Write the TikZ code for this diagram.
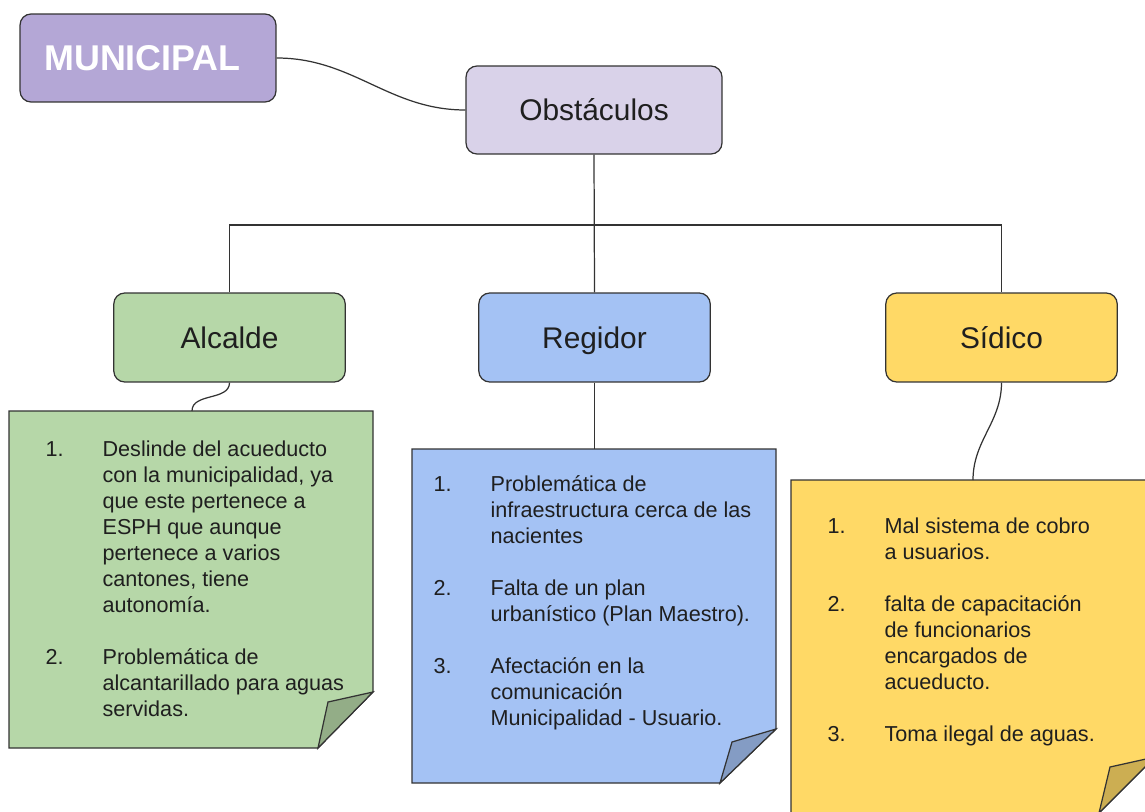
\documentclass[tikz,border=0pt]{standalone}
\usepackage{fontspec}
\setmainfont{Liberation Sans}

\definecolor{munfill}{HTML}{B4A7D6}
\definecolor{obsfill}{HTML}{D9D2E9}
\definecolor{alcfill}{HTML}{B6D7A8}
\definecolor{alcfold}{HTML}{93AD87}
\definecolor{regfill}{HTML}{A4C2F4}
\definecolor{regfold}{HTML}{849CC4}
\definecolor{sidfill}{HTML}{FFD966}
\definecolor{sidfold}{HTML}{CCAE52}
\definecolor{linegray}{HTML}{333333}
\definecolor{textgray}{HTML}{1F1F1F}

\begin{document}
\begin{tikzpicture}[x=0.02cm,y=-0.02cm,line width=0.7pt,
  head/.style={draw=linegray,rounded corners=0.22cm,minimum width=4.63cm,minimum height=1.78cm,
    text=textgray,font=\fontsize{17}{20}\selectfont,text height=12.2pt,text depth=0pt},
  notebox/.style={draw=linegray,line join=miter},
  items/.style={anchor=base west,inner sep=0pt,text=textgray,font=\fontsize{12.3}{14.85}\selectfont}]

\useasboundingbox (0,0) rectangle (1145,811);
\clip (0,0) rectangle (1145,811);

% boxes
\node[head,fill=munfill,minimum width=5.12cm,minimum height=1.76cm,text=white,text height=14.6pt,
  font=\fontsize{20.4}{24}\selectfont\bfseries] (municipal) at (148,58) {MUNICIPAL\kern0.22cm};
\node[head,fill=obsfill,minimum width=5.12cm,minimum height=1.76cm] (obst) at (594,110) {Obstáculos};

\node[head,fill=alcfill] (alc) at (229.5,337.5) {Alcalde};
\node[head,fill=regfill] (reg) at (594.5,337.5) {Regidor};
\node[head,fill=sidfill] (sid) at (1001.5,337.5) {Sídico};

% notes
\draw[notebox,fill=alcfill] (9,411) -- (373,411) -- (373,692) -- (318,748) -- (9,748) -- cycle;
\draw[notebox,fill=alcfold] (373,692) -- (328,702) -- (318,748) -- cycle;
\coordinate (alcnote) at (192,411);

\draw[notebox,fill=regfill] (412,449) -- (776,449) -- (776,729) -- (720,783) -- (412,783) -- cycle;
\draw[notebox,fill=regfold] (776,729) -- (732,742) -- (720,783) -- cycle;
\coordinate (regnote) at (594.5,449);

\draw[notebox,fill=sidfill] (791,480) -- (1155,480) -- (1155,757) -- (1099,813) -- (791,813) -- cycle;
\draw[notebox,fill=sidfold] (1155,757) -- (1110,767) -- (1099,813) -- cycle;
\coordinate (sidnote) at (973,480);

% connectors
\draw[linegray] (municipal.east) to[out=0,in=180] (obst.west);
\coordinate (fork) at (594,225);
\draw[linegray] (obst.south) -- (reg.north);
\draw[linegray] (alc.north) |- (fork) -| (sid.north);
\draw[linegray] (alc.south) to[out=-90,in=90] (alcnote);
\draw[linegray] (reg.south) -- (regnote);
\draw[linegray] (sid.south) to[out=-90,in=90] (sidnote);

% lists
\node[items] (alclist) at (45,456) {\begin{tabular}[t]{@{}p{1.14cm}@{}l@{}}
1. & Deslinde del acueducto\\
   & con la municipalidad, ya\\
   & que este pertenece a\\
   & ESPH que aunque\\
   & pertenece a varios\\
   & cantones, tiene\\
   & autonomía.\\
   & \\
2. & Problemática de\\
   & alcantarillado para aguas\\
   & servidas.
\end{tabular}};

\node[items] (reglist) at (433,491) {\begin{tabular}[t]{@{}p{1.14cm}@{}l@{}}
1. & Problemática de\\
   & infraestructura cerca de las\\
   & nacientes\\
   & \\
2. & Falta de un plan\\
   & urbanístico (Plan Maestro).\\
   & \\
3. & Afectación en la\\
   & comunicación\\
   & Municipalidad - Usuario.
\end{tabular}};

\node[items] (sidlist) at (827,533) {\begin{tabular}[t]{@{}p{1.14cm}@{}l@{}}
1. & Mal sistema de cobro\\
   & a usuarios.\\
   & \\
2. & falta de capacitación\\
   & de funcionarios\\
   & encargados de\\
   & acueducto.\\
   & \\
3. & Toma ilegal de aguas.
\end{tabular}};

\end{tikzpicture}
\end{document}
